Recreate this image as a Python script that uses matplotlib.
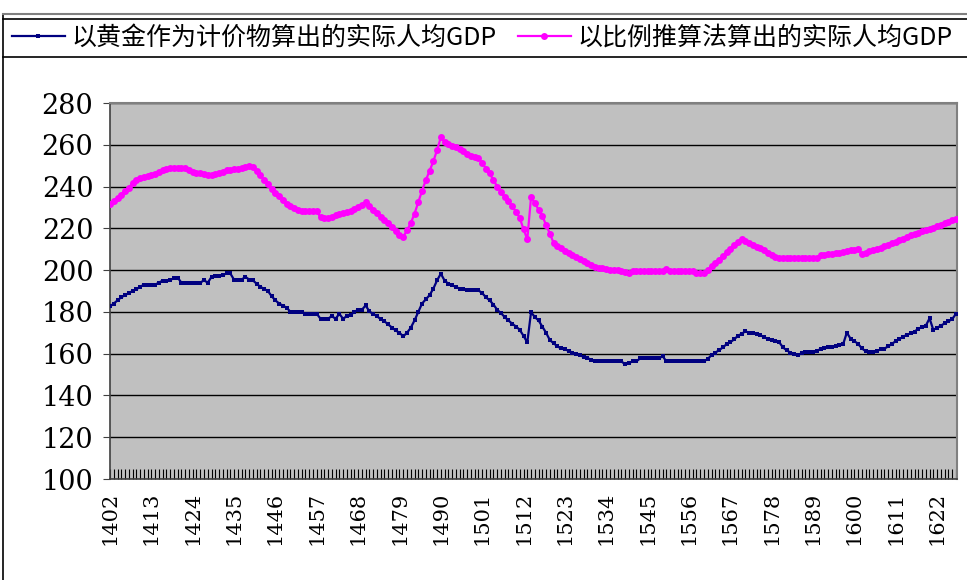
import numpy as np
import matplotlib
matplotlib.use("Agg")
import matplotlib.pyplot as plt
from matplotlib.lines import Line2D
from matplotlib.ticker import MultipleLocator, FixedLocator

plt.rcParams['font.family'] = ['Noto Sans CJK SC', 'DejaVu Sans']

# 年份 1402-1627
years = list(range(1402, 1628))

# 以黄金作为计价物算出的实际人均GDP
gold_gdp = [
    182.6, 184.0, 185.5, 187.0, 188.0, 189.0, 190.0, 190.8,            # 1402-1409
    192.0, 193.0, 193.0, 193.0, 193.0, 194.0, 195.0, 195.0, 195.4, 196.0,  # 1410-1419
    196.4, 194.0, 194.0, 194.0, 194.0, 194.0, 194.0, 195.1, 194.0, 196.7,  # 1420-1429
    197.0, 197.2, 197.5, 198.5, 198.4, 195.4, 195.4, 195.4, 196.8, 195.5,  # 1430-1439
    195.1, 193.5, 192.0, 191.0, 190.0, 187.5, 185.5, 184.0, 183.0, 182.0,  # 1440-1449
    180.0, 180.0, 180.0, 180.0, 179.1, 179.1, 179.1, 179.1, 176.7, 176.7,  # 1450-1459
    176.7, 178.0, 176.7, 179.1, 176.7, 178.0, 178.5, 180.0, 181.0, 181.0,  # 1460-1469
    183.1, 180.2, 179.0, 178.0, 176.5, 175.5, 174.0, 172.5, 171.1, 170.0,  # 1470-1479
    168.3, 170.0, 172.4, 175.9, 179.9, 184.0, 186.0, 188.0, 191.1, 195.1,  # 1480-1489
    198.3, 195.0, 193.5, 192.7, 192.0, 191.1, 190.8, 190.5, 190.3, 190.3,  # 1490-1499
    190.3, 189.0, 187.0, 185.5, 183.5, 181.0, 179.4, 177.5, 175.9, 174.3,  # 1500-1509
    173.0, 171.4, 168.5, 165.4, 179.9, 177.5, 175.9, 173.0, 170.0, 166.5,  # 1510-1519
    165.0, 163.5, 162.5, 162.0, 161.4, 160.5, 159.8, 159.2, 158.5, 158.0,  # 1520-1529
    157.0, 156.3, 156.3, 156.3, 156.3, 156.3, 156.3, 156.3, 156.3, 155.0,  # 1530-1539
    155.5, 156.3, 156.3, 157.7, 157.7, 157.7, 157.7, 157.7, 157.7, 158.8,  # 1540-1549
    156.3, 156.3, 156.3, 156.3, 156.3, 156.3, 156.3, 156.3, 156.3, 156.3,  # 1550-1559
    156.3, 157.5, 159.3, 160.5, 161.6, 163.0, 164.5, 165.5, 166.8, 168.5,  # 1560-1569
    169.5, 170.7, 170.0, 169.9, 169.5, 168.8, 168.0, 167.0, 166.5, 166.0,  # 1570-1579
    165.5, 163.0, 161.6, 160.5, 160.0, 159.3, 160.3, 160.9, 160.9, 160.9,  # 1580-1589
    161.5, 162.1, 162.5, 163.0, 163.0, 163.5, 164.1, 164.5, 170.1, 167.1,  # 1590-1599
    166.0, 164.7, 162.5, 161.2, 160.9, 160.9, 161.4, 162.0, 162.4, 163.5,  # 1600-1609
    164.7, 166.0, 167.0, 168.2, 169.0, 169.8, 170.5, 172.0, 172.6, 173.4,  # 1610-1619
    176.9, 171.4, 172.4, 173.4, 174.5, 175.5, 176.5, 179.0,              # 1620-1627
]

# 以比例推算法算出的实际人均GDP
ratio_gdp = [
    231.5, 233.0, 234.5, 236.0, 238.0, 239.5, 241.5, 243.0,            # 1402-1409
    244.0, 244.8, 245.0, 245.5, 246.0, 247.0, 247.7, 248.3, 248.8, 248.8,  # 1410-1419
    248.8, 248.8, 248.8, 248.0, 247.0, 246.7, 246.5, 246.0, 245.3, 245.3,  # 1420-1429
    246.0, 246.5, 247.0, 247.7, 248.0, 248.3, 248.5, 249.0, 249.5, 250.0,  # 1430-1439
    249.5, 247.5, 245.6, 243.0, 241.0, 239.0, 237.0, 235.5, 233.5, 231.6,  # 1440-1449
    230.5, 229.6, 229.0, 228.5, 228.3, 228.3, 228.3, 228.3, 225.2, 225.0,  # 1450-1459
    225.0, 225.5, 226.3, 227.0, 227.5, 228.0, 228.5, 229.2, 230.0, 231.0,  # 1460-1469
    232.4, 230.5, 229.0, 227.5, 225.5, 224.0, 222.5, 220.5, 218.5, 217.0,  # 1470-1479
    216.0, 219.0, 222.5, 227.0, 232.5, 238.0, 243.0, 247.5, 252.0, 257.5,  # 1480-1489
    263.5, 261.5, 260.5, 259.5, 258.8, 257.8, 256.8, 255.5, 254.5, 254.0,  # 1490-1499
    253.6, 251.5, 248.5, 246.4, 243.0, 240.0, 237.5, 235.0, 233.0, 230.5,  # 1500-1509
    228.0, 225.0, 219.5, 214.8, 234.9, 232.0, 229.0, 226.0, 221.5, 217.5,  # 1510-1519
    213.0, 211.5, 210.5, 209.3, 208.3, 207.2, 206.4, 205.5, 204.5, 203.5,  # 1520-1529
    202.5, 201.7, 201.2, 200.8, 200.5, 200.2, 200.0, 199.9, 199.5, 199.0,  # 1530-1539
    198.6, 199.5, 199.8, 199.8, 199.8, 199.8, 199.8, 199.8, 199.8, 199.8,  # 1540-1549
    200.7, 199.8, 199.8, 199.8, 199.8, 199.8, 199.8, 199.8, 198.6, 198.6,  # 1550-1559
    198.6, 200.0, 202.0, 203.5, 205.0, 206.6, 208.5, 210.3, 211.8, 213.3,  # 1560-1569
    215.0, 214.0, 213.0, 212.0, 211.3, 210.8, 209.8, 208.3, 207.3, 206.5,  # 1570-1579
    205.8, 205.8, 205.8, 205.8, 205.8, 205.8, 205.8, 205.8, 205.8, 205.8,  # 1580-1589
    205.8, 207.0, 207.1, 207.5, 207.9, 208.2, 208.4, 208.7, 209.0, 209.5,  # 1590-1599
    209.8, 210.3, 207.7, 208.3, 209.0, 209.5, 210.0, 210.8, 211.5, 212.2,  # 1600-1609
    213.0, 213.6, 214.3, 215.1, 215.8, 216.6, 217.3, 218.0, 218.6, 219.2,  # 1610-1619
    219.6, 220.3, 221.0, 221.7, 222.5, 223.1, 223.8, 224.5,              # 1620-1627
]

label_years = list(range(1402, 1628, 11))
y_ticks = list(range(100, 281, 20))

label1 = '以黄金作为计价物算出的实际人均GDP'
label2 = '以比例推算法算出的实际人均GDP'

fig = plt.figure(figsize=(9.67, 5.8), dpi=100)
fig.patch.set_facecolor('white')

W, H = 967.0, 580.0
ax = fig.add_axes([110 / W, 1 - 479 / H, 847 / W, 376 / H])
ax.set_facecolor('#C0C0C0')

line_gold, = ax.plot(years, gold_gdp, color='#000080', lw=1.6, marker='s',
                     markersize=2.6, markeredgewidth=0, zorder=4)
line_ratio, = ax.plot(years, ratio_gdp, color='#FF00FF', lw=1.6, marker='o',
                      markersize=5, markeredgewidth=0, zorder=3)

ax.set_xlim(1402, 1627.3)
ax.set_ylim(100, 280)
ax.set_yticks(y_ticks)
ax.yaxis.grid(True, color='black', lw=1.0)
ax.set_axisbelow(True)

ax.xaxis.set_major_locator(FixedLocator(label_years))
ax.xaxis.set_minor_locator(MultipleLocator(1))
ax.set_xticklabels([str(y) for y in label_years], rotation=90,
                   family='DejaVu Serif', fontsize=15)
ax.tick_params(axis='x', which='both', direction='in', length=7,
               width=0.8, color='black', pad=9)
ax.tick_params(axis='y', direction='out', length=5, color='#404040', pad=7)
for t in ax.get_yticklabels():
    t.set_family('DejaVu Serif')
    t.set_fontsize(19.5)

for side in ['top', 'right']:
    ax.spines[side].set_color('#808080')
    ax.spines[side].set_linewidth(1.5)
for side in ['left', 'bottom']:
    ax.spines[side].set_color('#404040')
    ax.spines[side].set_linewidth(1.2)

# 外框与图例框
fig.add_artist(Line2D([3 / W, 3 / W], [0, 1 - 14 / H], color='black',
                      lw=1.2, transform=fig.transFigure))
fig.add_artist(Line2D([3 / W, 1], [1 - 14 / H, 1 - 14 / H], color='#808080',
                      lw=1.5, transform=fig.transFigure))
fig.add_artist(Line2D([3 / W, 1], [1 - 19 / H, 1 - 19 / H], color='black',
                      lw=1.2, transform=fig.transFigure))
fig.add_artist(Line2D([3 / W, 1], [1 - 57 / H, 1 - 57 / H], color='black',
                      lw=1.2, transform=fig.transFigure))

leg1 = fig.legend(handles=[line_gold], labels=[label1], loc='center left',
                  bbox_to_anchor=(12 / W, 1 - 38 / H), frameon=False,
                  fontsize=18, handlelength=2.1, handletextpad=0.3,
                  borderpad=0, borderaxespad=0)
leg2 = fig.legend(handles=[line_ratio], labels=[label2], loc='center left',
                  bbox_to_anchor=(518 / W, 1 - 38 / H), frameon=False,
                  fontsize=18, handlelength=2.1, handletextpad=0.3,
                  borderpad=0, borderaxespad=0)

fig.savefig('out.png', dpi=100)
